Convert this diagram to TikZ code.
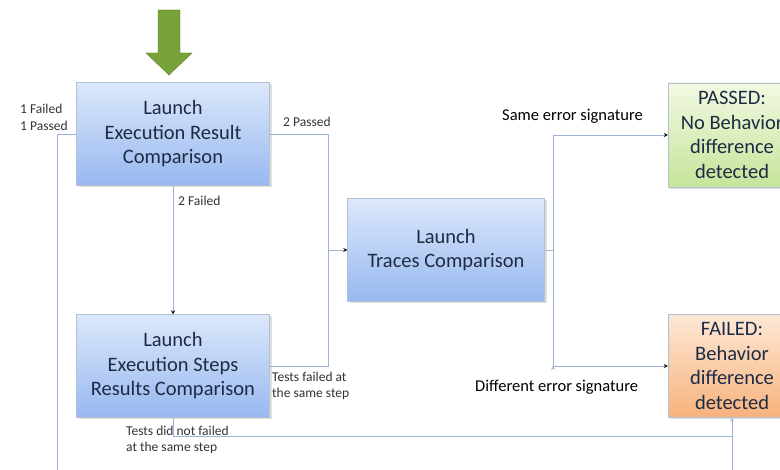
\documentclass[tikz,border=0pt]{standalone}
\usepackage{fontspec}
\setmainfont{Carlito}
\usepackage[dvipsnames]{xcolor}
\usetikzlibrary{shadows}

\definecolor{wire}{HTML}{9DB4D8}
\definecolor{boxtop}{HTML}{DCE8FB}
\definecolor{boxbot}{HTML}{98B8F0}
\definecolor{boxline}{HTML}{B3C0D3}
\definecolor{okTop}{HTML}{F2F9E2}
\definecolor{okBot}{HTML}{C6E49A}
\definecolor{koTop}{HTML}{FDE8D6}
\definecolor{koBot}{HTML}{F7B27C}
\definecolor{inkbox}{HTML}{1E2B44}
\definecolor{inklabel}{HTML}{333333}
\definecolor{bigarrow}{HTML}{78A23A}

\begin{document}
\begin{tikzpicture}[x=1pt,y=-1pt,->,>=stealth,shorten >=0pt,
    wire/.style={draw=wire,line width=0.8pt},
    main node/.style={rectangle,draw=boxline,align=center,text=inkbox,
        font=\fontsize{20.5}{24.5}\selectfont,
        drop shadow={opacity=0.25,shadow xshift=2pt,shadow yshift=-2pt}},
    blue node/.style={main node,top color=boxtop,bottom color=boxbot,
        minimum width=193pt,minimum height=103pt},
    tag/.style={text=inklabel,align=left,inner sep=0pt,font=\fontsize{13.5}{16}\selectfont},
    sig/.style={text=black,inner sep=0pt,font=\fontsize{16.5}{19}\selectfont}]
                \useasboundingbox[fill=white] (0,0) rectangle (780,470);

                \node[blue node] (1) at (173,134) {Launch\\Execution Result\\Comparison};
                \node[blue node] (2) [below of = 1, node distance=232pt] {Launch\\Execution Steps\\Results Comparison};
                \node[blue node, minimum width=197pt] (3) at (446,250) {Launch\\Traces Comparison};
                \node[main node, top color=okTop, bottom color=okBot, minimum width=128pt, minimum height=104pt] (4) at (732,135) {PASSED:\\No Behavior\\difference\\detected};
                \node[main node, top color=koTop, bottom color=koBot, minimum width=128pt, minimum height=103pt] (5) [below of = 4, node distance=231pt] {FAILED:\\Behavior\\difference\\detected};

                % entry arrow
                \filldraw[-, fill=bigarrow, draw=bigarrow!80!black, line width=0.4pt]
                    (158,10) -- (180,10) -- (180,53) -- (192,53) -- (169,75)
                    -- (146,53) -- (158,53) -- cycle;

                \coordinate (m) at (328,250);
                \coordinate (k) at (553,250);

                % plain joints
                \draw[wire,-] (1.east) -| (2.east -| m) -- (2.east);
                \draw[wire,-] (3.east) -- (k);
                \draw[wire,-] (k |- 4.west) -- (k |- 5.west);
                \draw[wire,-] (2.south) |- (732,436);

                \path[wire]
                    (1) edge (2)
                    (m) edge (3.west)
                    (k |- 4.west) edge (4.west)
                    (k |- 5.west) edge (5.west)
                ;
                \draw[wire] (1.west) -- (57,134) -- (57,490) -- (732,490) -- (5.south);

                \node[tag, anchor=north west] (t1) at (20,103.5) {1 Failed\\[1pt]1 Passed};
                \node[tag, anchor=north west] (t2) at (283,116.5) {2 Passed};
                \node[tag, anchor=north west] (t3) at (178,195.5) {2 Failed};
                \node[tag, anchor=north west] (t4) at (272,371.5) {Tests failed at\\the same step};
                \node[tag, anchor=north west] (t5) at (126,425.5) {Tests did not failed\\at the same step};
                \node[sig, anchor=base west] (s1) at (502,121) {Same error signature};
                \node[sig, anchor=base west] (s2) at (475,392) {Different error signature};
            \end{tikzpicture}
\end{document}
